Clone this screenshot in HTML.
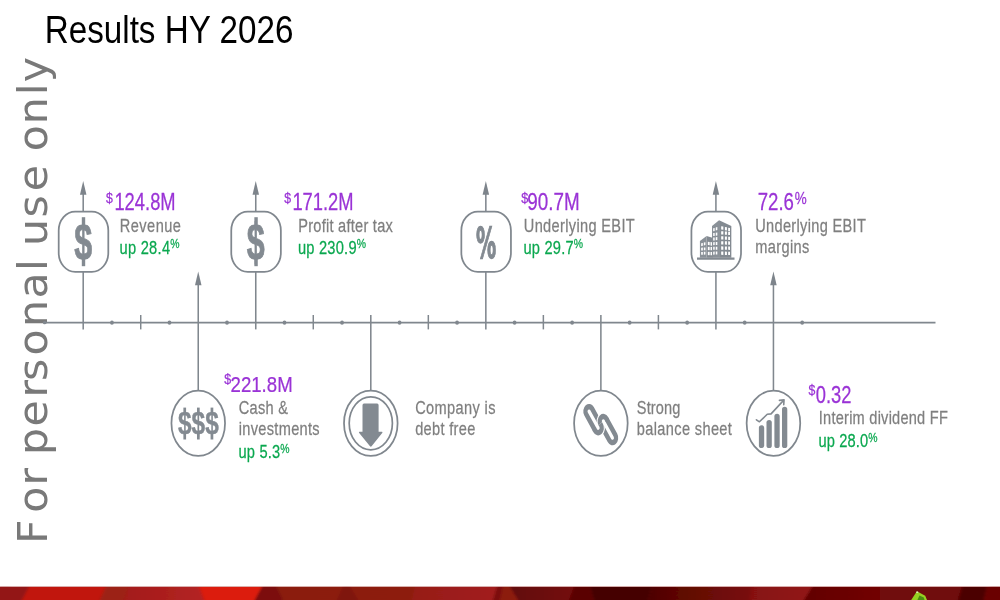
<!DOCTYPE html>
<html lang="en"><head><meta charset="utf-8"><title>Results HY 2026</title>
<style>html,body{margin:0;padding:0;background:#fff;}body{width:1000px;height:600px;overflow:hidden;position:relative;font-family:'Liberation Sans', Arial, sans-serif;}svg{position:absolute;left:0;top:0;display:block}text{font-family:'Liberation Sans', Arial, sans-serif;}</style>
</head><body>
<svg width="1000" height="600" viewBox="0 0 1000 600">
<g id="footer">
<defs>
<linearGradient id="fg1" x1="0" y1="0" x2="1" y2="0"><stop offset="0" stop-color="#a31b19"/><stop offset="1" stop-color="#b32323"/></linearGradient>
<linearGradient id="fg2" x1="0" y1="0" x2="1" y2="0"><stop offset="0" stop-color="#8a1a0e"/><stop offset="1" stop-color="#8d1c10"/></linearGradient>
<linearGradient id="fg3" x1="0" y1="0" x2="1" y2="0"><stop offset="0" stop-color="#961a18"/><stop offset="1" stop-color="#a21c1c"/></linearGradient>
<linearGradient id="fg4" x1="0" y1="0" x2="1" y2="0"><stop offset="0" stop-color="#620707"/><stop offset="1" stop-color="#740b0b"/></linearGradient>
<linearGradient id="fg5" x1="0" y1="0" x2="1" y2="0"><stop offset="0" stop-color="#4c0202"/><stop offset="0.25" stop-color="#5c0604"/><stop offset="1" stop-color="#7a0f09"/></linearGradient>
<linearGradient id="fg6" x1="0" y1="0" x2="1" y2="0"><stop offset="0" stop-color="#861111"/><stop offset="1" stop-color="#921515"/></linearGradient>
<linearGradient id="fg7" x1="0" y1="0" x2="1" y2="0"><stop offset="0" stop-color="#620202"/><stop offset="1" stop-color="#720606"/></linearGradient>
<filter id="fblur" filterUnits="userSpaceOnUse" x="-20" y="580" width="1040" height="30"><feGaussianBlur stdDeviation="1.6 0"/></filter>
<clipPath id="fclip"><rect x="0" y="586.7" width="1000" height="14"/></clipPath>
</defs>
<rect x="0" y="586.7" width="1000" height="14" fill="#8e1413"/>
<g clip-path="url(#fclip)"><g filter="url(#fblur)">
<rect x="-20" y="586.7" width="30" height="14" fill="#931616"/><rect x="990" y="586.7" width="30" height="14" fill="#6a0606"/>
<polygon points="0,586.7 29,586.7 22,600 0,600" fill="#931616"/>
<polygon points="29,586.7 106,586.7 100,600 22,600" fill="#c1140f"/>
<polygon points="106,586.7 128,586.7 124,600 100,600" fill="#9c2417"/>
<polygon points="128,586.7 199,586.7 204,600 124,600" fill="url(#fg1)"/>
<polygon points="199,586.7 262,586.7 255,600 204,600" fill="#dc1a11"/>
<polygon points="262,586.7 415,586.7 412,600 255,600" fill="url(#fg2)"/>
<polygon points="262,586.7 277,586.7 283,600 255,600" fill="#7b1107"/>
<polygon points="343,586.7 350,586.7 358,600 337,600" fill="#7f1409"/>
<polygon points="415,586.7 497,586.7 493,600 412,600" fill="url(#fg3)"/>
<polygon points="497,586.7 503,586.7 500,600 493,600" fill="#7c1008"/>
<polygon points="503,586.7 510,586.7 518,600 500,600" fill="#8c1a0a"/>
<polygon points="510,586.7 574,586.7 569,600 518,600" fill="url(#fg4)"/>
<polygon points="574,586.7 590,586.7 594,600 569,600" fill="#5a0404"/>
<polygon points="590,586.7 652,586.7 648,600 594,600" fill="#440101"/>
<polygon points="652,586.7 752,586.7 750,600 648,600" fill="url(#fg5)"/>
<polygon points="752,586.7 812,586.7 804,600 750,600" fill="url(#fg6)"/>
<polygon points="812,586.7 880,586.7 880,600 804,600" fill="url(#fg7)"/>
<polygon points="880,586.7 962,586.7 958,600 880,600" fill="#700808"/>
<polygon points="962,586.7 987,586.7 984,600 958,600" fill="#4c0101"/>
<polygon points="987,586.7 1000,586.7 1000,600 984,600" fill="#6a0606"/>
</g></g>
<path d="M916.9 591.2 L925.2 595.8 L927 600 L911.2 600 Z" fill="#96d022"/>
<path d="M919.5 595.5 L923.8 597.4 L924.6 600 L917.4 600 Z" fill="#4b8c12"/>
<path d="M916.9 591.2 L918.6 592.1 L917.2 593 L916 592.4 Z" fill="#eef6d8"/>
</g>
<text x="-0.3 29.7 55.8 72.3 85.1 112.5 140.4 156.4 181.0 208.2 235.6 262.2 273.4 286.2 313.6 338.7 364.1 377.3 403.3 431.1 443.5" transform="translate(46.5,543.6) rotate(-90) scale(1.04,1)" style="font-family:'DejaVu Sans',Verdana,sans-serif;font-kerning:none;letter-spacing:1.2px" font-size="41" fill="#797979">For personal use only</text>
<text transform="translate(44.7,42.6) scale(0.852,1)" font-size="39" fill="#000">Results HY 2026</text>
<g stroke="#80878e" stroke-width="1.5" fill="none">
<line x1="44.5" y1="322.65" x2="935.5" y2="322.65" stroke-width="1.7"/>
<line x1="140.72" y1="315" x2="140.72" y2="329.4"/>
<line x1="313.28" y1="315" x2="313.28" y2="329.4"/>
<line x1="428.32" y1="315" x2="428.32" y2="329.4"/>
<line x1="543.36" y1="315" x2="543.36" y2="329.4"/>
<line x1="658.40" y1="315" x2="658.40" y2="329.4"/>
</g>
<g fill="#80878e">
<circle cx="44.6" cy="322.65" r="1.7"/>
<ellipse cx="111.96" cy="322.65" rx="1.9" ry="2.1"/>
<ellipse cx="169.48" cy="322.65" rx="1.9" ry="2.1"/>
<ellipse cx="227.00" cy="322.65" rx="1.9" ry="2.1"/>
<ellipse cx="284.52" cy="322.65" rx="1.9" ry="2.1"/>
<ellipse cx="342.04" cy="322.65" rx="1.9" ry="2.1"/>
<ellipse cx="399.56" cy="322.65" rx="1.9" ry="2.1"/>
<ellipse cx="457.08" cy="322.65" rx="1.9" ry="2.1"/>
<ellipse cx="514.60" cy="322.65" rx="1.9" ry="2.1"/>
<ellipse cx="572.12" cy="322.65" rx="1.9" ry="2.1"/>
<ellipse cx="629.64" cy="322.65" rx="1.9" ry="2.1"/>
<ellipse cx="687.16" cy="322.65" rx="1.9" ry="2.1"/>
<ellipse cx="744.68" cy="322.65" rx="1.9" ry="2.1"/>
<ellipse cx="802.20" cy="322.65" rx="1.9" ry="2.1"/>
</g>
<line x1="83.20" y1="188.9" x2="83.20" y2="329.4" stroke="#80878e" stroke-width="1.55"/><path d="M83.20 180.9 L86.45 194.70000000000002 L79.95 194.70000000000002 Z" fill="#7d848b"/>
<rect x="58.70" y="211.60" width="49.6" height="60.2" rx="16.5" ry="19.0" fill="#fff" stroke="#80878e" stroke-width="1.75"/>
<line x1="255.76" y1="188.9" x2="255.76" y2="329.4" stroke="#80878e" stroke-width="1.55"/><path d="M255.76 180.9 L259.01 194.70000000000002 L252.51 194.70000000000002 Z" fill="#7d848b"/>
<rect x="231.26" y="211.60" width="49.6" height="60.2" rx="16.5" ry="19.0" fill="#fff" stroke="#80878e" stroke-width="1.75"/>
<line x1="485.84" y1="188.9" x2="485.84" y2="329.4" stroke="#80878e" stroke-width="1.55"/><path d="M485.84 180.9 L489.09 194.70000000000002 L482.59 194.70000000000002 Z" fill="#7d848b"/>
<rect x="461.34" y="211.60" width="49.6" height="60.2" rx="16.5" ry="19.0" fill="#fff" stroke="#80878e" stroke-width="1.75"/>
<line x1="715.92" y1="188.9" x2="715.92" y2="329.4" stroke="#80878e" stroke-width="1.55"/><path d="M715.92 180.9 L719.17 194.70000000000002 L712.67 194.70000000000002 Z" fill="#7d848b"/>
<rect x="691.42" y="211.60" width="49.6" height="60.2" rx="16.5" ry="19.0" fill="#fff" stroke="#80878e" stroke-width="1.75"/>
<line x1="198.24" y1="279.5" x2="198.24" y2="390" stroke="#80878e" stroke-width="1.55"/><path d="M198.24 271.5 L201.49 285.3 L194.99 285.3 Z" fill="#7d848b"/>
<line x1="773.44" y1="279.5" x2="773.44" y2="390" stroke="#80878e" stroke-width="1.55"/><path d="M773.44 271.5 L776.69 285.3 L770.19 285.3 Z" fill="#7d848b"/>
<line x1="370.80" y1="315" x2="370.80" y2="390" stroke="#80878e" stroke-width="1.55"/>
<line x1="600.88" y1="315" x2="600.88" y2="390" stroke="#80878e" stroke-width="1.55"/>
<ellipse cx="198.24" cy="423.3" rx="26.8" ry="32.7" fill="#fff" stroke="#80878e" stroke-width="1.75"/>
<ellipse cx="370.80" cy="423.3" rx="26.8" ry="32.7" fill="#fff" stroke="#80878e" stroke-width="1.75"/>
<ellipse cx="600.88" cy="423.3" rx="26.8" ry="32.7" fill="#fff" stroke="#80878e" stroke-width="1.75"/>
<ellipse cx="773.44" cy="423.3" rx="26.8" ry="32.7" fill="#fff" stroke="#80878e" stroke-width="1.75"/>
<text transform="translate(83.20,259.5) scale(0.62,1)" text-anchor="middle" font-size="52" font-weight="bold" fill="#838a91" stroke="#838a91" stroke-width="0.9">$</text>
<rect x="81.80" y="217.2" width="3.4" height="10" fill="#838a91"/><rect x="81.80" y="256" width="3.4" height="10.2" fill="#838a91"/>
<text transform="translate(255.76,259.5) scale(0.62,1)" text-anchor="middle" font-size="52" font-weight="bold" fill="#838a91" stroke="#838a91" stroke-width="0.9">$</text>
<rect x="254.36" y="217.2" width="3.4" height="10" fill="#838a91"/><rect x="254.36" y="256" width="3.4" height="10.2" fill="#838a91"/>
<text transform="translate(486.14,258.0) scale(0.48,1)" text-anchor="middle" font-size="42" font-weight="bold" style="font-family:'DejaVu Sans',sans-serif" fill="#838a91" stroke="#838a91" stroke-width="1.3">%</text>
<text transform="translate(198.34,434.2) scale(0.764,1)" text-anchor="middle" font-size="32" font-weight="bold" fill="#838a91" stroke="#838a91" stroke-width="0.4">$$$</text>
<rect x="183.39" y="407.6" width="2.7" height="7" fill="#838a91"/><rect x="183.39" y="431.5" width="2.7" height="8" fill="#838a91"/>
<rect x="196.99" y="407.6" width="2.7" height="7" fill="#838a91"/><rect x="196.99" y="431.5" width="2.7" height="8" fill="#838a91"/>
<rect x="210.59" y="407.6" width="2.7" height="7" fill="#838a91"/><rect x="210.59" y="431.5" width="2.7" height="8" fill="#838a91"/>
<ellipse cx="370.80" cy="423.3" rx="21.6" ry="26.5" fill="none" stroke="#80878e" stroke-width="1.7"/>
<path d="M362.50 405.2 Q362.50 403.6 364.00 403.6 H377.10 Q378.60 403.6 378.60 405.2 V431.8 H381.80 Q383.10 431.8 382.20 433 L371.60 446.2 Q370.80 447.1 370.00 446.2 L359.20 433 Q358.30 431.8 359.60 431.8 H362.50 Z" fill="#838a91"/>
<g transform="translate(600.75,424.6) scale(0.78,1)" fill="none" stroke="#838a91" stroke-width="5.45">
<rect transform="translate(-9.16,-4.94) rotate(-35.00)" x="-4.68" y="-14.83" width="9.35" height="29.65" rx="4.68"/>
<rect transform="translate(9.16,4.94) rotate(-35.00)" x="-4.68" y="-14.83" width="9.35" height="29.65" rx="4.68"/>
<g transform="translate(9.16,4.94) rotate(-35.00)"><path d="M-4.68,-8.15 V-10.15 A4.68,4.68 0 0 1 4.68,-10.15 v1" stroke="#fff" stroke-width="8.05"/><path d="M-4.68,-8.15 V-10.15 A4.68,4.68 0 0 1 4.68,-10.15 v1 v1"/></g>
<g transform="translate(-9.16,-4.94) rotate(-35.00)"><path d="M4.68,8.15 V10.15 A4.68,4.68 0 0 1 -4.68,10.15 v-1" stroke="#fff" stroke-width="8.05"/><path d="M4.68,8.15 V10.15 A4.68,4.68 0 0 1 -4.68,10.15 v-1 v-1"/></g>
</g>
<g id="building">
<polygon points="697.00,257.50 734.50,257.50 734.50,259.67 697.00,259.67" fill="#838a91"/>
<polygon points="719.08,220.25 712.00,226.08 712.00,257.75 719.08,257.75" fill="#8a9198"/>
<polygon points="719.08,220.25 731.33,226.08 731.33,257.75 719.08,257.75" fill="#838a91"/>
<polygon points="706.58,236.08 699.92,241.08 699.92,257.75 706.58,257.75" fill="#8a9198"/>
<polygon points="706.58,236.08 712.42,237.75 712.42,257.75 706.58,257.75" fill="#838a91"/>
<polygon points="721.17,226.17 723.33,226.50 723.33,229.83 721.17,229.50" fill="#fff"/>
<polygon points="721.17,231.17 723.33,231.25 723.33,234.58 721.17,234.50" fill="#fff"/>
<polygon points="721.17,236.17 723.33,236.25 723.33,239.58 721.17,239.50" fill="#fff"/>
<polygon points="721.17,241.17 723.33,241.25 723.33,244.58 721.17,244.50" fill="#fff"/>
<polygon points="721.17,246.33 723.33,246.42 723.33,249.75 721.17,249.67" fill="#fff"/>
<polygon points="721.17,251.50 723.33,251.58 723.33,254.92 721.17,254.83" fill="#fff"/>
<polygon points="724.92,226.92 726.92,227.25 726.92,230.58 724.92,230.25" fill="#fff"/>
<polygon points="724.92,231.42 726.92,231.50 726.92,234.83 724.92,234.75" fill="#fff"/>
<polygon points="724.92,236.42 726.92,236.50 726.92,239.83 724.92,239.75" fill="#fff"/>
<polygon points="724.92,241.25 726.92,241.33 726.92,244.67 724.92,244.58" fill="#fff"/>
<polygon points="724.92,246.42 726.92,246.50 726.92,249.83 724.92,249.75" fill="#fff"/>
<polygon points="724.92,251.58 726.92,251.67 726.92,255.00 724.92,254.92" fill="#fff"/>
<polygon points="728.17,227.67 730.00,228.00 730.00,231.33 728.17,231.00" fill="#fff"/>
<polygon points="728.17,231.67 730.00,231.75 730.00,235.08 728.17,235.00" fill="#fff"/>
<polygon points="728.17,236.67 730.00,236.75 730.00,240.08 728.17,240.00" fill="#fff"/>
<polygon points="728.17,241.33 730.00,241.42 730.00,244.75 728.17,244.67" fill="#fff"/>
<polygon points="728.17,246.50 730.00,246.58 730.00,249.92 728.17,249.83" fill="#fff"/>
<polygon points="728.17,251.67 730.00,251.75 730.00,255.08 728.17,255.00" fill="#fff"/>
<polygon points="713.17,228.33 714.67,227.92 714.67,230.92 713.17,231.33" fill="#fff"/>
<polygon points="713.17,233.00 714.67,232.92 714.67,235.92 713.17,236.00" fill="#fff"/>
<polygon points="713.17,237.50 714.67,237.42 714.67,240.42 713.17,240.50" fill="#fff"/>
<polygon points="713.17,242.17 714.67,242.08 714.67,245.08 713.17,245.17" fill="#fff"/>
<polygon points="713.17,246.83 714.67,246.75 714.67,249.75 713.17,249.83" fill="#fff"/>
<polygon points="713.17,251.67 714.67,251.58 714.67,254.58 713.17,254.67" fill="#fff"/>
<polygon points="715.75,227.50 717.33,227.08 717.33,230.08 715.75,230.50" fill="#fff"/>
<polygon points="715.75,232.67 717.33,232.58 717.33,235.58 715.75,235.67" fill="#fff"/>
<polygon points="715.75,237.17 717.33,237.08 717.33,240.08 715.75,240.17" fill="#fff"/>
<polygon points="715.75,242.08 717.33,242.00 717.33,245.00 715.75,245.08" fill="#fff"/>
<polygon points="715.75,246.75 717.33,246.67 717.33,249.67 715.75,249.75" fill="#fff"/>
<polygon points="715.75,251.58 717.33,251.50 717.33,254.50 715.75,254.58" fill="#fff"/>
<polygon points="707.83,241.67 709.67,241.92 709.67,245.25 707.83,245.00" fill="#fff"/>
<rect x="707.83" y="246.83" width="1.83" height="3.33" fill="#fff"/>
<rect x="707.83" y="251.83" width="1.83" height="3.33" fill="#fff"/>
<polygon points="710.50,242.08 712.00,242.33 712.00,245.67 710.50,245.42" fill="#fff"/>
<rect x="710.50" y="246.92" width="1.50" height="3.33" fill="#fff"/>
<rect x="710.50" y="251.92" width="1.50" height="3.33" fill="#fff"/>
<polygon points="701.17,243.33 702.83,242.92 702.83,245.75 701.17,246.17" fill="#fff"/>
<polygon points="701.17,247.67 702.83,247.58 702.83,250.42 701.17,250.50" fill="#fff"/>
<polygon points="701.17,252.00 702.83,251.92 702.83,254.75 701.17,254.83" fill="#fff"/>
<polygon points="703.83,242.58 705.42,242.17 705.42,245.00 703.83,245.42" fill="#fff"/>
<polygon points="703.83,247.50 705.42,247.42 705.42,250.25 703.83,250.33" fill="#fff"/>
<polygon points="703.83,251.83 705.42,251.75 705.42,254.58 703.83,254.67" fill="#fff"/>
</g>
<g transform="translate(773.44,0)" stroke="#838a91" stroke-linecap="round" fill="none">
<line x1="-11.9" y1="427.8" x2="-11.9" y2="445.4" stroke-width="5.3"/>
<line x1="-4.3" y1="422.6" x2="-4.3" y2="445.4" stroke-width="5.3"/>
<line x1="3.6" y1="416.4" x2="3.6" y2="445.4" stroke-width="5.3"/>
<line x1="11.2" y1="409.5" x2="11.2" y2="445.4" stroke-width="5.3"/>
<path d="M-17 419.8 L-14 421.8 L-6.2 414.2 L-2.4 413.9 L10.6 399.9 M6 400.4 L10.6 399.9 L10.3 404.8" stroke-width="1.6" stroke-linejoin="round"/>
</g>
<text transform="translate(106,209.9) scale(0.798,1)" font-size="23" fill="#9a33d6" stroke="#9a33d6" stroke-width="0.25"><tspan font-size="15.4" dy="-7.3">$</tspan><tspan dy="7.3" dx="2.0">124.8M</tspan></text>
<text transform="translate(119.8,231.5) scale(0.82,1)" font-size="17.8" fill="#7f7f7f" stroke="#7f7f7f" stroke-width="0.25" textLength="74.51" lengthAdjust="spacing">Revenue</text>
<text transform="translate(119.5,253.7) scale(0.815,1)" font-size="18" fill="#0aa84f" stroke="#0aa84f" stroke-width="0.25" textLength="73.74" lengthAdjust="spacing">up 28.4<tspan font-size="12.8" dy="-5.4">%</tspan></text>
<text transform="translate(284.2,209.9) scale(0.798,1)" font-size="23" fill="#9a33d6" stroke="#9a33d6" stroke-width="0.25"><tspan font-size="15.4" dy="-7.3">$</tspan><tspan dy="7.3" dx="1.7">171.2M</tspan></text>
<text transform="translate(298.2,231.5) scale(0.82,1)" font-size="17.8" fill="#7f7f7f" stroke="#7f7f7f" stroke-width="0.25" textLength="115.37" lengthAdjust="spacing">Profit after tax</text>
<text transform="translate(297.9,253.7) scale(0.815,1)" font-size="18" fill="#0aa84f" stroke="#0aa84f" stroke-width="0.25" textLength="83.68" lengthAdjust="spacing">up 230.9<tspan font-size="12.8" dy="-5.4">%</tspan></text>
<text transform="translate(521.3,209.9) scale(0.82,1)" font-size="23" fill="#9a33d6" stroke="#9a33d6" stroke-width="0.25"><tspan font-size="15.4" dy="-7.3">$</tspan><tspan dy="7.3" dx="-1.3">90.7M</tspan></text>
<text transform="translate(523.8,231.5) scale(0.82,1)" font-size="17.8" fill="#7f7f7f" stroke="#7f7f7f" stroke-width="0.25" textLength="135.24" lengthAdjust="spacing">Underlying EBIT</text>
<text transform="translate(523.5,253.7) scale(0.815,1)" font-size="18" fill="#0aa84f" stroke="#0aa84f" stroke-width="0.25" textLength="73.13" lengthAdjust="spacing">up 29.7<tspan font-size="12.8" dy="-5.4">%</tspan></text>
<text transform="translate(757.7,209.9) scale(0.811,1)" font-size="23" fill="#9a33d6" stroke="#9a33d6" stroke-width="0.25">72.6<tspan font-size="16.6" dy="-6.2" dx="0.8">%</tspan></text>
<text transform="translate(755.2,231.5) scale(0.82,1)" font-size="17.8" fill="#7f7f7f" stroke="#7f7f7f" stroke-width="0.25" textLength="135.00" lengthAdjust="spacing">Underlying EBIT</text>
<text transform="translate(755.2,253.0) scale(0.82,1)" font-size="17.8" fill="#7f7f7f" stroke="#7f7f7f" stroke-width="0.25" textLength="65.98" lengthAdjust="spacing">margins</text>
<text transform="translate(224.2,391.7) scale(0.81,1)" font-size="23" fill="#9a33d6" stroke="#9a33d6" stroke-width="0.25"><tspan font-size="15.4" dy="-7.3">$</tspan><tspan dy="7.3" dx="-0.7">221.8M</tspan></text>
<text transform="translate(238.8,413.5) scale(0.82,1)" font-size="17.8" fill="#7f7f7f" stroke="#7f7f7f" stroke-width="0.25" textLength="59.88" lengthAdjust="spacing">Cash &amp;</text>
<text transform="translate(238.8,435.4) scale(0.82,1)" font-size="17.8" fill="#7f7f7f" stroke="#7f7f7f" stroke-width="0.25" textLength="98.54" lengthAdjust="spacing">investments</text>
<text transform="translate(238.5,458.0) scale(0.815,1)" font-size="18" fill="#0aa84f" stroke="#0aa84f" stroke-width="0.25" textLength="62.70" lengthAdjust="spacing">up 5.3<tspan font-size="12.8" dy="-5.4">%</tspan></text>
<text transform="translate(415.2,413.5) scale(0.82,1)" font-size="17.8" fill="#7f7f7f" stroke="#7f7f7f" stroke-width="0.25" textLength="97.93" lengthAdjust="spacing">Company is</text>
<text transform="translate(415.2,435.4) scale(0.82,1)" font-size="17.8" fill="#7f7f7f" stroke="#7f7f7f" stroke-width="0.25" textLength="73.29" lengthAdjust="spacing">debt free</text>
<text transform="translate(636.8,413.5) scale(0.82,1)" font-size="17.8" fill="#7f7f7f" stroke="#7f7f7f" stroke-width="0.25" textLength="53.29" lengthAdjust="spacing">Strong</text>
<text transform="translate(636.8,435.4) scale(0.82,1)" font-size="17.8" fill="#7f7f7f" stroke="#7f7f7f" stroke-width="0.25" textLength="115.98" lengthAdjust="spacing">balance sheet</text>
<text transform="translate(808.6,402.7) scale(0.798,1)" font-size="23" fill="#9a33d6" stroke="#9a33d6" stroke-width="0.25"><tspan font-size="15.4" dy="-7.3">$</tspan><tspan dy="7.3" dx="0.5">0.32</tspan></text>
<text transform="translate(818.8,424.2) scale(0.82,1)" font-size="17.8" fill="#7f7f7f" stroke="#7f7f7f" stroke-width="0.25" textLength="157.32" lengthAdjust="spacing">Interim dividend FF</text>
<text transform="translate(818.5,447.1) scale(0.815,1)" font-size="18" fill="#0aa84f" stroke="#0aa84f" stroke-width="0.25" textLength="72.52" lengthAdjust="spacing">up 28.0<tspan font-size="12.8" dy="-5.4">%</tspan></text>
</svg>
</body></html>
